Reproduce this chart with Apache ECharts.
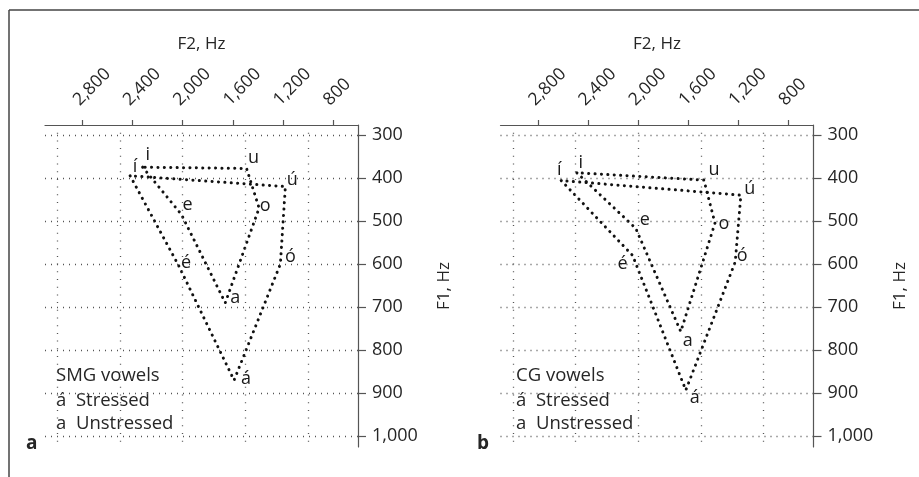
<!DOCTYPE html>
<html><head><meta charset="utf-8">
<script src="https://cdn.jsdelivr.net/npm/echarts@6/dist/echarts.min.js"></script>
<style>html,body{margin:0;padding:0;background:#fff}#c{width:919px;height:477px}</style>
</head><body><div id="c"></div>
<script>
// ---- data ----
const f2Ticks = [800, 1200, 1600, 2000, 2400, 2800];
const f2Grid = [1000, 1500, 2000, 2500, 3000];
const f1Ticks = [300, 400, 500, 600, 700, 800, 900, 1000];

const stressedLabels = ['í', 'é', 'á', 'ó', 'ú'];
const unstressedLabels = ['i', 'e', 'a', 'o', 'u'];

const smgStressedF2 = [2420, 2030, 1590, 1220, 1180];
const smgStressedF1 = [395, 605, 870, 600, 420];
const smgUnstressedF2 = [2320, 2010, 1660, 1390, 1490];
const smgUnstressedF1 = [375, 485, 690, 470, 378];

const cgStressedF2 = [2615, 2045, 1620, 1225, 1180];
const cgStressedF1 = [406, 580, 893, 595, 440];
const cgUnstressedF2 = [2490, 2020, 1660, 1387, 1475];
const cgUnstressedF1 = [388, 517, 757, 505, 405];

// ---- styles (label offsets in px) ----
const smgStressedOff = [[5,-9],[7,-3],[12,-1],[10,-7],[7,-7]];
const smgUnstressedOff = [[5,-12],[6,-10],[10,-5],[6,-2],[7,-11]];
const cgStressedOff = [[-2,-11],[-10,8],[9,8],[7,-6],[9,-6]];
const cgUnstressedOff = [[4,-10],[9,-8],[7,9],[9,1],[10,-10]];

const FONT = '"Open Sans", "Noto Sans", sans-serif';
const TXT = '#262626';
const fmt = v => Number(v).toLocaleString('en-US');

const chart = echarts.init(document.getElementById('c'), null, {renderer: 'canvas'});

function polygon(f2, f1) {
  const pts = f2.map((x, i) => [x, f1[i]]);
  pts.push(pts[0]);
  return pts;
}

function panelSeries(idx, sF2, sF1, uF2, uF1, sOff, uOff) {
  const lineStyle = {color: '#111', width: 3, type: [0.1, 6.3], cap: 'round'};
  const mk = (f2, f1, labels, offs) => f2.map((x, i) => ({
    value: [x, f1[i]], name: labels[i],
    label: {offset: offs[i]}
  }));
  return [
    {
      type: 'line', xAxisIndex: idx, yAxisIndex: idx, data: [], silent: true,
      markLine: {
        silent: true, symbol: ['none', 'none'], animation: false,
        label: {show: false},
        data: f2Grid.map(v => ({xAxis: v, lineStyle: {color: '#555', width: 1.3, type: [1, 6.7]}}))
          .concat(f1Ticks.map(v => ({yAxis: v, lineStyle: {color: '#555', width: 1.3, type: [1, 5]}})))
      }
    },
    {type: 'line', xAxisIndex: idx, yAxisIndex: idx, data: polygon(sF2, sF1), symbol: 'none',
      lineStyle: lineStyle, silent: true, z: 3},
    {type: 'line', xAxisIndex: idx, yAxisIndex: idx, data: polygon(uF2, uF1), symbol: 'none',
      lineStyle: lineStyle, silent: true, z: 3},
    {type: 'scatter', xAxisIndex: idx, yAxisIndex: idx, symbolSize: 1, silent: true, z: 5,
      itemStyle: {color: 'rgba(0,0,0,0)', opacity: 1},
      label: {show: true, position: 'inside', formatter: p => p.name, fontSize: 18, color: '#1a1a1a',
        opacity: 1, textBorderWidth: 0, fontFamily: FONT},
      data: mk(sF2, sF1, stressedLabels, sOff).concat(mk(uF2, uF1, unstressedLabels, uOff))}
  ];
}

function xAx(idx) {
  return {
    gridIndex: idx, type: 'value', position: 'top', inverse: true, min: 600, max: 3100,
    name: 'F2, Hz', nameLocation: 'middle', nameGap: 72,
    nameTextStyle: {fontSize: 17, color: TXT, fontFamily: FONT},
    axisLine: {show: true, lineStyle: {color: '#555', width: 1.2}},
    axisTick: {show: true, customValues: f2Ticks, length: 5, lineStyle: {color: '#555', width: 1.2}},
    axisLabel: {customValues: f2Ticks, rotate: -45, margin: 16, align: 'left', verticalAlign: 'bottom',
      fontSize: 17.5, color: TXT, fontFamily: FONT, formatter: fmt},
    splitLine: {show: false}
  };
}
function yAx(idx) {
  return {
    gridIndex: idx, type: 'value', position: 'right', inverse: true, min: 277, max: 1025,
    name: 'F1, Hz', nameLocation: 'middle', nameRotate: 90, nameGap: 78,
    nameTextStyle: {fontSize: 17, color: TXT, fontFamily: FONT},
    axisLine: {show: true, lineStyle: {color: '#555', width: 1.2}},
    axisTick: {show: true, customValues: f1Ticks, length: 8, lineStyle: {color: '#555', width: 1.2}},
    axisLabel: {customValues: f1Ticks, margin: 14, fontSize: 18, color: TXT, fontFamily: FONT, formatter: fmt},
    splitLine: {show: false}
  };
}

function txt(x, y, text, font) {
  return {type: 'text', x: x, y: y, silent: true,
    style: {text: text, font: font, fill: TXT, verticalAlign: 'middle', align: 'left'}};
}

const option = {
  animation: false,
  backgroundColor: '#fff',
  grid: [
    {left: 45, right: 561, top: 125, bottom: 30},
    {left: 500.5, right: 105.5, top: 125, bottom: 30}
  ],
  xAxis: [xAx(0), xAx(1)],
  yAxis: [yAx(0), yAx(1)],
  series: panelSeries(0, smgStressedF2, smgStressedF1, smgUnstressedF2, smgUnstressedF1, smgStressedOff, smgUnstressedOff)
    .concat(panelSeries(1, cgStressedF2, cgStressedF1, cgUnstressedF2, cgUnstressedF1, cgStressedOff, cgUnstressedOff)),
  graphic: [
    {type: 'line', silent: true, shape: {x1: 9, y1: 10, x2: 919, y2: 10}, style: {stroke: '#444', lineWidth: 1.5}},
    {type: 'line', silent: true, shape: {x1: 9, y1: 10, x2: 9, y2: 477}, style: {stroke: '#444', lineWidth: 1.5}},
    txt(56, 376, 'SMG vowels', '18.5px ' + FONT),
    txt(56, 401, 'á  Stressed', '18.5px ' + FONT),
    txt(56, 424, 'a  Unstressed', '18.5px ' + FONT),
    txt(516, 376, 'CG vowels', '18.5px ' + FONT),
    txt(516, 401, 'á  Stressed', '18.5px ' + FONT),
    txt(516, 424, 'a  Unstressed', '18.5px ' + FONT),
    txt(26, 444, 'a', 'bold 19px ' + FONT),
    txt(477, 444, 'b', 'bold 19px ' + FONT)
  ]
};
chart.setOption(option);
</script>
</body></html>
